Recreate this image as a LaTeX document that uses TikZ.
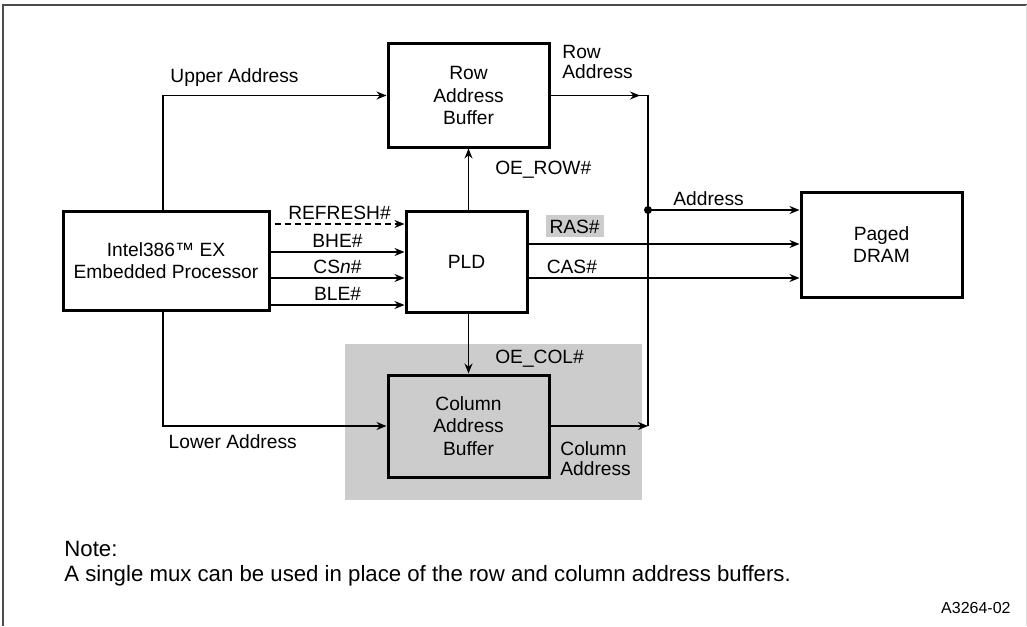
\documentclass[tikz,border=0pt]{standalone}
\usepackage{fontspec}
\setmainfont{Liberation Sans}
\usetikzlibrary{arrows.meta}
\begin{document}
\begin{tikzpicture}[x=0.5pt, y=-0.5pt]
  % Styles
  \tikzset{
    bloc/.style={draw=black, line width=1.5pt, align=center, inner sep=0pt,
      font=\fontsize{9.6}{11.2}\selectfont},
    sig/.style={-{Stealth[length=5pt, width=4pt]}, line width=0.75pt},
    lbl/.style={font=\fontsize{9.6}{10}\selectfont, inner sep=1pt},
  }
  \useasboundingbox (0,0) rectangle (1027,626);

  % Cadre
  \draw[gray!60!black, line width=1pt] (3,626) -- (3,5) -- (1027,5);
  \draw[gray!25, line width=0.5pt] (1026,5) -- (1026,626);

  % Zone grisée
  \fill[gray!40] (345,344) rectangle (642,500);

  % Blocs
  \node[bloc, minimum width=103pt, minimum height=49.5pt] (proc) at (166,260.5) {Intel386™ EX\\Embedded Processor};
  \node[bloc, minimum width=80.5pt, minimum height=51.5pt] (rab) at (468.5,95.5) {Row\\Address\\Buffer};
  \node[bloc, minimum width=60.5pt, minimum height=50.5pt] (pld) at (466.5,261.5) {PLD};
  \node[bloc, fill=gray!40, minimum width=80.5pt, minimum height=51pt] (cab) at (468.5,426) {Column\\Address\\Buffer};
  \node[bloc, minimum width=80.5pt, minimum height=52.5pt] (dram) at (881.5,244.5) {Paged\\DRAM};

  % Bus d'adresse
  \coordinate (bus) at (648,0);
  \coordinate (jn) at (648,210);
  \draw[sig] ([xshift=-1.5pt]proc.north) |- (rab.west)
    node[lbl, pos=0.66, above=3pt] {Upper Address};
  \draw[sig] ([xshift=-1.5pt]proc.south) |- (cab.west)
    node[lbl, pos=0.656, below=3pt] {Lower Address};
  \draw[line width=0.75pt] (rab.east) -- (rab.east -| bus) -- (cab.east -| bus);
  \coordinate (ra) at (640,95.5);
  \draw[sig] (rab.east) -- (ra);
  \node[lbl, align=left, anchor=west] (lra) at (560,62) {Row\\Address};
  \draw[sig] (cab.east) -- (cab.east -| bus);
  \node[lbl, align=left, anchor=west] (lca) at (558,459) {Column\\Address};
  \fill (jn) circle (2pt);
  \draw[sig] (jn) -- (dram.west |- jn) node[lbl, pos=0.4, above=1pt] {Address};

  % Signaux vers le PLD
  \coordinate (rf) at (0,224);
  \draw[sig, dash pattern=on 3pt off 2pt] ([xshift=2pt]proc.east |- rf) -- (pld.west |- rf)
    node[lbl, midway, above=1pt] {REFRESH\#};
  \foreach \y/\nom in {252/BHE\#, 278/CS\textit{n}\#, 305/BLE\#} {
    \coordinate (s) at (0,\y);
    \draw[sig] (proc.east |- s) -- (pld.west |- s) node[lbl, midway, above=1pt] {\nom};
  }

  % Commandes du PLD
  \draw[sig] (pld.north -| rab.south) -- (rab.south)
    node[lbl, pos=0.66, right=12pt] {OE\_ROW\#};
  \draw[sig] (pld.south -| cab.north) -- (cab.north)
    node[lbl, pos=0.76, right=12pt] {OE\_COL\#};
  \coordinate (ras) at (0,244);
  \coordinate (cas) at (0,278);
  \draw[sig] (pld.east |- ras) -- (dram.west |- ras)
    node[lbl, pos=0.17, above=3pt, fill=gray!40, inner xsep=2pt, inner ysep=2pt,
      text height=7pt, text depth=0pt] {RAS\#};
  \draw[sig] (pld.east |- cas) -- (dram.west |- cas)
    node[lbl, pos=0.16, above=1pt] {CAS\#};

  % Note
  \node[anchor=west, align=left, inner sep=0pt, font=\fontsize{11.1}{12.5}\selectfont] (note) at (64,563.5)
    {Note:\\A single mux can be used in place of the row and column address buffers.};
  \node[anchor=east, inner sep=0pt, font=\fontsize{8}{9}\selectfont] (ref) at (1011,608) {A3264-02};
\end{tikzpicture}
\end{document}
